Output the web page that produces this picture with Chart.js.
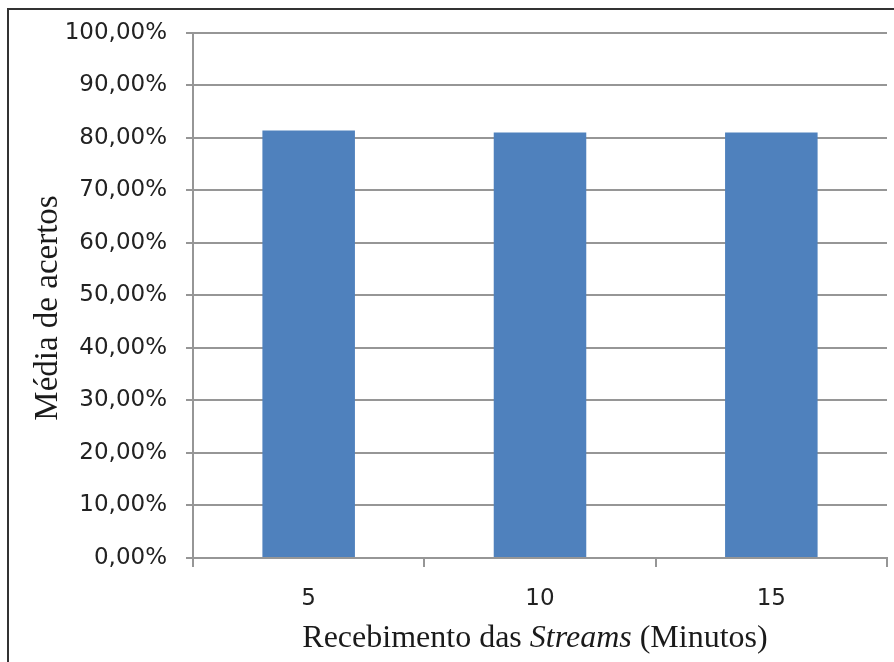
<!DOCTYPE html>
<html lang="pt">
<head>
<meta charset="utf-8">
<title>Média de acertos</title>
<script src="https://cdn.jsdelivr.net/npm/chart.js@4"></script>
<style>
  html, body { margin: 0; padding: 0; background: #fff; }
  #caixa { position: relative; width: 894px; height: 662px; overflow: hidden; }
</style>
</head>
<body>
<div id="caixa">
  <canvas id="grafica" width="894" height="662"></canvas>
</div>
<script>
// ========== DADOS ===================
const minutos = ["5", "10", "15"];
const acertos = [81.4, 81.0, 81.0];   // % médio de acertos
const tituloY = "Média de acertos";
const tituloX = ["Recebimento das ", "Streams", " (Minutos)"];

// -------------- UTILS ----------------
function pct(v) { return Number(v).toFixed(2).replace(".", ",") + "%"; }

const COR_GRADE = "#969696";
const FONTE_EIXO = "'DejaVu Sans', Verdana, sans-serif";
const FONTE_TITULO = "'Liberation Serif', 'Times New Roman', serif";

// ========== MOLDURA E TÍTULOS ==========
const titulos = {
  id: "titulos",
  afterDraw(chart) {
    const ctx = chart.ctx;
    const area = chart.chartArea;
    ctx.save();

    // moldura (só esquerda e topo aparecem)
    ctx.strokeStyle = "#333";
    ctx.lineWidth = 2;
    ctx.beginPath();
    ctx.moveTo(8, 662);
    ctx.lineTo(8, 9);
    ctx.lineTo(894, 9);
    ctx.stroke();

    ctx.fillStyle = "#1a1a1a";

    // título do eixo Y, rodado
    ctx.font = "33px " + FONTE_TITULO;
    ctx.textAlign = "center";
    ctx.textBaseline = "alphabetic";
    ctx.translate(57, 308);
    ctx.rotate(-Math.PI / 2);
    ctx.fillText(tituloY, 0, 0);
    ctx.setTransform(1, 0, 0, 1, 0, 0);

    // título do eixo X com "Streams" em itálico
    const fontes = ["32px " + FONTE_TITULO, "italic 32px " + FONTE_TITULO, "32px " + FONTE_TITULO];
    let total = 0;
    const larguras = tituloX.map((t, i) => {
      ctx.font = fontes[i];
      const w = ctx.measureText(t).width;
      total += w;
      return w;
    });
    let x = (area.left + area.right) / 2 - 5 - total / 2;
    ctx.textAlign = "left";
    tituloX.forEach((t, i) => {
      ctx.font = fontes[i];
      ctx.fillText(t, x, 647);
      x += larguras[i];
    });

    ctx.restore();
  }
};

// ========== GRAFICA ==========
new Chart(document.getElementById("grafica"), {
  type: "bar",
  data: {
    labels: minutos,
    datasets: [{
      data: acertos,
      backgroundColor: "#4F81BD",
      borderWidth: 0,
      barPercentage: 0.4,
      categoryPercentage: 1.0
    }]
  },
  options: {
    responsive: false,
    animation: false,
    devicePixelRatio: 1,
    layout: { padding: { top: 31, right: 7, left: 0, bottom: 0 } },
    plugins: { legend: { display: false }, tooltip: { enabled: false } },
    scales: {
      x: {
        afterFit(s) { s.height = 104; },
        grid: {
          offset: true,
          drawOnChartArea: false,
          drawTicks: true,
          tickLength: 9,
          color: COR_GRADE,
          lineWidth: 2
        },
        border: { color: COR_GRADE, width: 2 },
        ticks: {
          color: "#222",
          padding: 18,
          font: { family: FONTE_EIXO, size: 23 }
        }
      },
      y: {
        min: 0,
        max: 100,
        afterFit(s) { s.width = 193; },
        grid: {
          color: COR_GRADE,
          lineWidth: 2,
          tickLength: 7
        },
        border: { color: COR_GRADE, width: 2 },
        ticks: {
          stepSize: 10,
          color: "#222",
          padding: 19,
          font: { family: FONTE_EIXO, size: 23 },
          callback: v => pct(v)
        }
      }
    }
  },
  plugins: [titulos]
});
</script>
</body>
</html>
